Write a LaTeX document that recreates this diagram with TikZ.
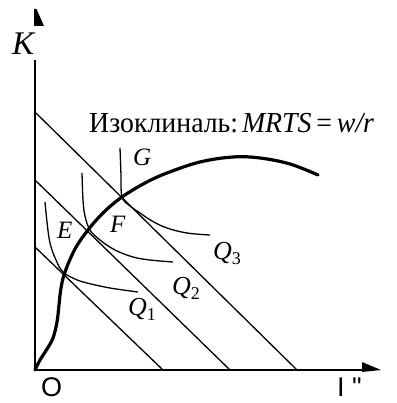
\documentclass[tikz,border=0pt]{standalone}
\usepackage{fontspec}
\setmainfont{Liberation Serif}
\newfontfamily\sansf{Liberation Sans}
\newcommand{\qlab}[1]{\textit{Q}\raisebox{-5pt}{\fontsize{18}{18}\selectfont #1}}
\begin{document}
\begin{tikzpicture}[x=1pt,y=-1pt,
  axis/.style={line width=1.8pt},
  budget/.style={line width=1.3pt},
  isoq/.style={line width=1.3pt},
  isocl/.style={line width=3.2pt, line cap=round},
  lbl/.style={font=\fontsize{25}{25}\selectfont\itshape, inner sep=0, anchor=base west},
  qlbl/.style={font=\fontsize{26}{26}\selectfont, inner sep=0, anchor=base west}]
\useasboundingbox (0,0) rectangle (396,403);
% axes
\coordinate (O) at (35,370);
\coordinate (Ytop) at (35,60);
\coordinate (Xend) at (370,370);
\draw[axis] (O) -- (Ytop);
\draw[axis] (O) -- (Xend);
\fill (34,9) -- (36.5,9) -- (44,26) -- (34,26) -- cycle;
\fill (362,362) -- (381,370) -- (362,372) -- cycle;
% isocost lines
\coordinate (A1) at (35,247); \coordinate (B1) at (163,370);
\coordinate (A2) at (35,180); \coordinate (B2) at (230,370);
\coordinate (A3) at (36,113); \coordinate (B3) at (297,370);
\draw[budget] (A1) -- (B1);
\draw[budget] (A2) -- (B2);
\draw[budget] (A3) -- (B3);
% isoquants
\draw[isoq] plot[smooth, tension=0.6] coordinates {(45,202) (47,222) (50,243) (56,260) (63,272) (75,279) (87,283) (110,288) (138,292)};
\draw[isoq] plot[smooth, tension=0.6] coordinates {(82,173) (83,200) (85,216) (90,230) (100,240) (115,250) (133,257) (150,260) (173,262)};
\draw[isoq] plot[smooth, tension=0.6] coordinates {(120,148) (121,175) (122,197) (130,206) (140,213) (152,221) (167,228) (187,233) (210,235)};
% isocline
\draw[isocl] plot[smooth, tension=0.6] coordinates {(35,370) (40,360) (47,349) (53,338) (57,322) (59,305) (61,288) (65,272) (75,249) (88,230) (104,212) (122,197) (145,183) (167,173) (200,162) (233,157) (260,158) (290,164) (318,175)};
% labels
\node[lbl, font=\fontsize{33}{33}\selectfont\itshape] (K) at (12,55) {K};
\node[lbl] (E) at (57,238) {E};
\node[lbl] (F) at (110,232) {F};
\node[lbl] (G) at (133,165) {G};
\node[qlbl] (Q1) at (128,315) {\qlab{1}};
\node[qlbl] (Q2) at (172,294) {\qlab{2}};
\node[qlbl] (Q3) at (213,259) {\qlab{3}};
\node[inner sep=0, anchor=base west, font=\fontsize{29}{29}\selectfont, xscale=0.96] (T) at (89,133) {Изоклиналь:\hspace{4pt}\textit{MRTS}\hspace{5pt}=\hspace{5pt}\textit{w/r}};
\node[inner sep=0, anchor=base west, font=\sansf\fontsize{27}{27}\selectfont] (Ol) at (41,396) {O};
\node[inner sep=0, anchor=base west, font=\sansf\fontsize{27}{27}\selectfont] (Ll) at (337,396) {I "};
\end{tikzpicture}
\end{document}
